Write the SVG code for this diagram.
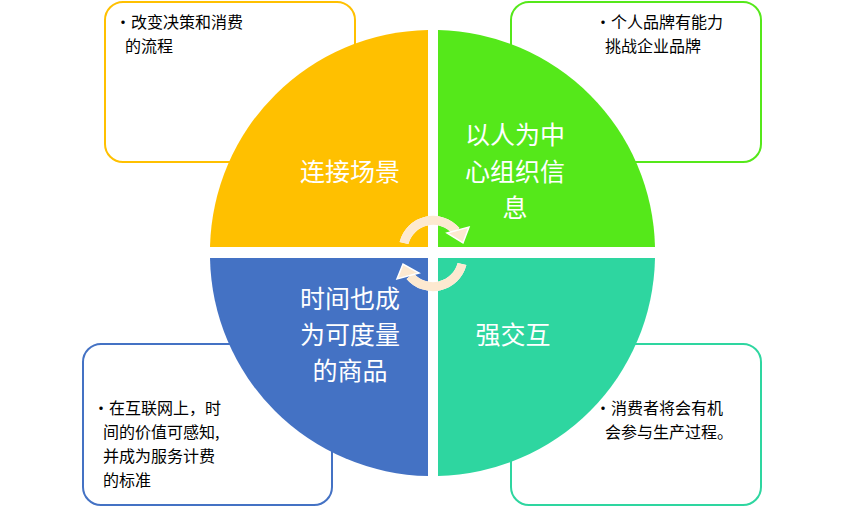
<svg xmlns="http://www.w3.org/2000/svg" width="865" height="507" viewBox="0 0 865 507">
<style>
.box{fill:#fff;stroke-width:2}
.t{font-family:"Noto Sans CJK SC","Liberation Sans",sans-serif;font-size:16px;fill:#000}
.q{font-family:"Noto Sans CJK SC","Liberation Sans",sans-serif;font-size:25px;fill:#fff;text-anchor:middle}
.arc{fill:none;stroke-width:9}
</style>
<rect width="865" height="507" fill="#fff"/>
<g id="box-tl"><rect class="box" x="105" y="2" width="250" height="160" rx="18" stroke="#FFC000"/>
<text class="t" x="115" y="28">•改变决策和消费</text><text class="t" x="125" y="52">的流程</text></g>
<g id="box-tr"><rect class="box" x="511" y="2" width="250" height="160" rx="18" stroke="#55E81A"/>
<text class="t" x="595" y="28">•个人品牌有能力</text><text class="t" x="605" y="52">挑战企业品牌</text></g>
<g id="box-bl"><rect class="box" x="83" y="344" width="249" height="161" rx="18" stroke="#4472C4"/>
<text class="t" x="93" y="414">•在互联网上，时</text><text class="t" x="103" y="438">间的价值可感知,</text><text class="t" x="103" y="462">并成为服务计费</text><text class="t" x="103" y="486">的标准</text></g>
<g id="box-br"><rect class="box" x="511" y="344" width="250" height="161" rx="18" stroke="#2ED6A0"/>
<text class="t" x="595" y="414">•消费者将会有机</text><text class="t" x="605" y="438">会参与生产过程。</text></g>
<g id="q-tl"><path d="M428,247 L210,247 A222,222 0 0 1 428,30 Z" fill="#FFC000"/><text class="q" x="350" y="181">连接场景</text></g>
<g id="q-tr"><path d="M438,247 L438,30 A222,222 0 0 1 655,247 Z" fill="#55E81A"/>
<text class="q" x="515" y="144">以人为中</text><text class="q" x="515" y="181">心组织信</text><text class="q" x="515" y="217">息</text></g>
<g id="q-br"><path d="M438,258 L655,258 A222,222 0 0 1 438,476 Z" fill="#2ED6A0"/><text class="q" x="513" y="344">强交互</text></g>
<g id="q-bl"><path d="M428,258 L428,476 A222,222 0 0 1 210,258 Z" fill="#4472C4"/>
<text class="q" x="350" y="308">时间也成</text><text class="q" x="350" y="344">为可度量</text><text class="q" x="350" y="380">的商品</text></g>
<g id="connectors">
<path class="arc" d="M404,243 A30,30 0 0 1 456,231" stroke="#fff" stroke-width="11"/>
<path class="arc" d="M404,243 A30,30 0 0 1 456,231" stroke="#FDE9D0" stroke-width="7"/>
<polygon points="447,233 469,227 463,243" fill="#FDE9D0" stroke="#fff" stroke-width="1.5"/>
<path class="arc" d="M462,264 A30,30 0 0 1 410,276" stroke="#fff" stroke-width="11"/>
<path class="arc" d="M462,264 A30,30 0 0 1 410,276" stroke="#FDE9D0" stroke-width="7"/>
<polygon points="419,273 397,279 403,264" fill="#FDE9D0" stroke="#fff" stroke-width="1.5"/>
</g>
</svg>
